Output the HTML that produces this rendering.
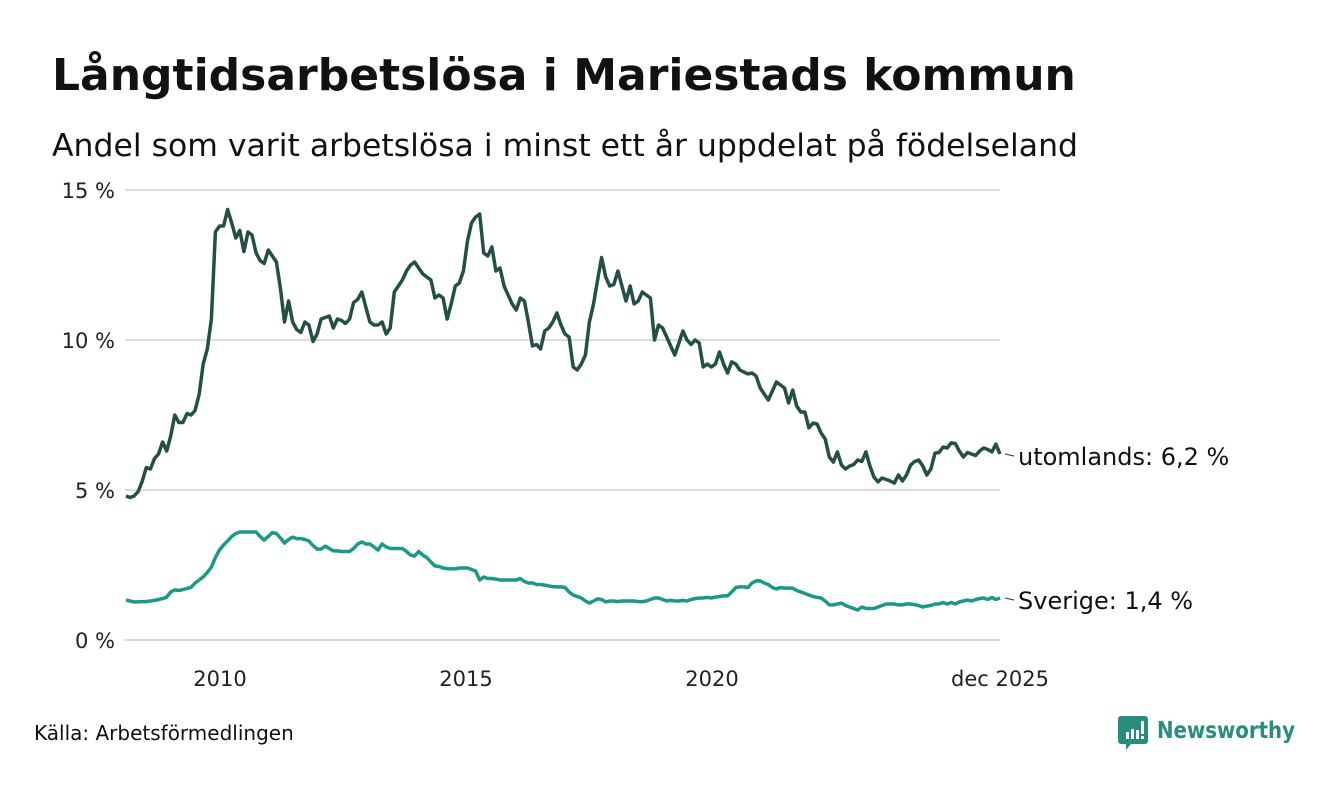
<!DOCTYPE html>
<html><head><meta charset="utf-8">
<style>
body{margin:0;background:#fff;width:1340px;height:780px;overflow:hidden;font-family:"Liberation Sans","DejaVu Sans",sans-serif;}
svg text{font-family:"DejaVu Sans","Liberation Sans",sans-serif;}
</style></head>
<body>
<svg id="chart" width="1340" height="780">
<text x="52" y="90" font-size="44" font-weight="bold" fill="#111">Långtidsarbetslösa i Mariestads kommun</text>
<text x="52" y="156" font-size="31.5" fill="#111" textLength="1026" lengthAdjust="spacingAndGlyphs">Andel som varit arbetslösa i minst ett år uppdelat på födelseland</text>
<g id="grid"></g><g id="series"></g><g id="xaxis"></g>
<text x="34" y="740" font-size="20" fill="#111">Källa: Arbetsförmedlingen</text>
<g>
<path d="M1121 716h24a3 3 0 0 1 3 3v22a3 3 0 0 1-3 3h-14l-5 6v-6h-5a3 3 0 0 1-3-3v-22a3 3 0 0 1 3-3z" fill="#2a8c7e"/>
<rect x="1126" y="732" width="3" height="7" fill="#fff"/><rect x="1131" y="729" width="3" height="10" fill="#fff"/><rect x="1136" y="730" width="3" height="9" fill="#fff"/><rect x="1141" y="721" width="3" height="13" fill="#fff"/><rect x="1141" y="736" width="3" height="3" fill="#fff"/>
<text x="1157" y="738" font-size="23" font-weight="bold" fill="#2a8c7e" textLength="138" lengthAdjust="spacingAndGlyphs">Newsworthy</text>
</g>
</svg>
<script>
const yTicks=[0,5,10,15];
const xTickYears=[2010,2015,2020];
const xTickLabels=["2010","2015","2020","dec 2025"];
const startYear=2008;
const utomlands=[4.8,4.75,4.8,4.95,5.3,5.75,5.7,6.05,6.2,6.6,6.3,6.8,
7.5,7.25,7.25,7.55,7.5,7.65,8.2,9.2,9.7,10.7,13.6,13.8,
13.8,14.35,13.9,13.4,13.65,12.95,13.6,13.5,12.9,12.65,12.55,13.0,
12.8,12.6,11.7,10.6,11.3,10.6,10.35,10.25,10.6,10.5,9.95,10.2,
10.7,10.75,10.8,10.4,10.7,10.65,10.55,10.7,11.25,11.35,11.6,11.1,
10.6,10.5,10.5,10.6,10.2,10.4,11.6,11.8,12.0,12.3,12.5,12.6,
12.4,12.2,12.1,12.0,11.4,11.5,11.4,10.7,11.2,11.8,11.9,12.3,
13.3,13.9,14.1,14.2,12.9,12.8,13.1,12.3,12.4,11.8,11.5,11.2,
11.0,11.4,11.3,10.6,9.8,9.85,9.7,10.3,10.4,10.6,10.9,10.5,
10.2,10.1,9.1,9.0,9.2,9.5,10.6,11.2,12.0,12.75,12.1,11.8,
11.85,12.3,11.8,11.3,11.8,11.2,11.3,11.6,11.5,11.4,10.0,10.5,
10.4,10.1,9.8,9.5,9.9,10.3,10.0,9.85,10.0,9.9,9.1,9.2,
9.1,9.2,9.6,9.2,8.9,9.27,9.2,9.0,8.93,8.87,8.9,8.8,
8.4,8.2,8.0,8.3,8.6,8.5,8.4,7.9,8.33,7.8,7.6,7.6,
7.07,7.23,7.2,6.9,6.7,6.1,5.93,6.27,5.83,5.7,5.8,5.85,
6.0,5.95,6.27,5.8,5.43,5.27,5.4,5.35,5.3,5.23,5.5,5.3,
5.5,5.83,5.95,6.0,5.8,5.5,5.7,6.23,6.25,6.43,6.4,6.57,
6.55,6.3,6.1,6.25,6.2,6.15,6.3,6.4,6.35,6.27,6.53,6.2];
const sverige=[1.33,1.3,1.27,1.27,1.28,1.28,1.3,1.32,1.35,1.38,1.43,1.6,
1.67,1.65,1.68,1.72,1.75,1.9,2.0,2.1,2.25,2.43,2.75,3.0,
3.17,3.3,3.45,3.55,3.6,3.6,3.6,3.6,3.6,3.45,3.33,3.45,
3.58,3.55,3.4,3.23,3.35,3.43,3.38,3.38,3.35,3.3,3.15,3.03,
3.03,3.13,3.05,2.97,2.97,2.95,2.95,2.95,3.05,3.2,3.27,3.2,
3.2,3.1,3.0,3.2,3.1,3.05,3.05,3.05,3.05,2.95,2.83,2.8,
2.95,2.83,2.75,2.6,2.47,2.45,2.4,2.38,2.37,2.37,2.4,2.4,
2.4,2.35,2.3,2.0,2.1,2.05,2.05,2.03,2.0,2.0,2.0,2.0,
2.0,2.05,1.95,1.9,1.9,1.85,1.85,1.83,1.8,1.78,1.77,1.77,
1.75,1.6,1.5,1.45,1.4,1.3,1.23,1.3,1.37,1.35,1.27,1.3,
1.3,1.28,1.3,1.3,1.3,1.3,1.28,1.28,1.3,1.35,1.4,1.4,
1.35,1.3,1.32,1.3,1.3,1.32,1.3,1.35,1.38,1.4,1.4,1.42,
1.4,1.43,1.45,1.47,1.47,1.6,1.75,1.77,1.77,1.75,1.9,1.97,
1.97,1.9,1.85,1.75,1.7,1.75,1.73,1.73,1.73,1.65,1.6,1.55,
1.5,1.45,1.42,1.4,1.3,1.17,1.17,1.2,1.23,1.15,1.1,1.05,
1.0,1.1,1.05,1.05,1.05,1.1,1.15,1.2,1.2,1.2,1.17,1.17,
1.2,1.2,1.18,1.15,1.1,1.13,1.15,1.2,1.2,1.25,1.2,1.25,
1.2,1.27,1.3,1.33,1.3,1.35,1.38,1.4,1.35,1.42,1.35,1.4];
const NS="http://www.w3.org/2000/svg";
function yS(v){return 640-v*30;}
function xS(t){return 220+(t-2010)*49.2;}
function xI(i){return 126+(i/(utomlands.length-1))*(1000-126);}
function mk(tag,attrs,parent){const e=document.createElementNS(NS,tag);for(const k in attrs)e.setAttribute(k,attrs[k]);parent.appendChild(e);return e;}
const grid=document.getElementById('grid');
yTicks.forEach(v=>{
  const l=mk('line',{x1:125,x2:1000,y1:yS(v),y2:yS(v),stroke:'#dcdce0','stroke-width':2},grid);
  
  
  const t=mk('text',{x:115,y:yS(v)+8,'font-size':21,'text-anchor':'end',fill:'#222'},grid);
  t.textContent=v+' %';
  
  
});
const xa=document.getElementById('xaxis');
const xPos=xTickYears.map(xS).concat([xI(utomlands.length-1)]);
xTickLabels.forEach((s,i)=>{
  const t=mk('text',{x:xPos[i],y:686,'font-size':21,'text-anchor':'middle',fill:'#222'},xa);
  t.textContent=s;
  
  
});
const sg=document.getElementById('series');
function drawSeries(data,color,name,label){
  const d=data.map((v,i)=>(i?'L':'M')+xI(i).toFixed(1)+' '+yS(v).toFixed(1)).join(' ');
  const p=mk('path',{d:d,fill:'none',stroke:color,'stroke-width':3.5,'stroke-linejoin':'round'},sg);
  
  
  const last=data[data.length-1], lx=xI(data.length-1), ly=yS(last);
  const c=mk('line',{x1:lx+5,x2:lx+14,y1:ly,y2:ly+2,stroke:'#555','stroke-width':1.2},sg);
  
  
  const t=mk('text',{x:lx+18,y:ly+11,'font-size':24,fill:'#111'},sg);
  t.textContent=label+': '+last.toFixed(1).replace('.',',')+' %';
  
  
}
drawSeries(utomlands,'#234f47','utomlands','utomlands');
drawSeries(sverige,'#1b9886','sverige','Sverige');
</script>
</body></html>
